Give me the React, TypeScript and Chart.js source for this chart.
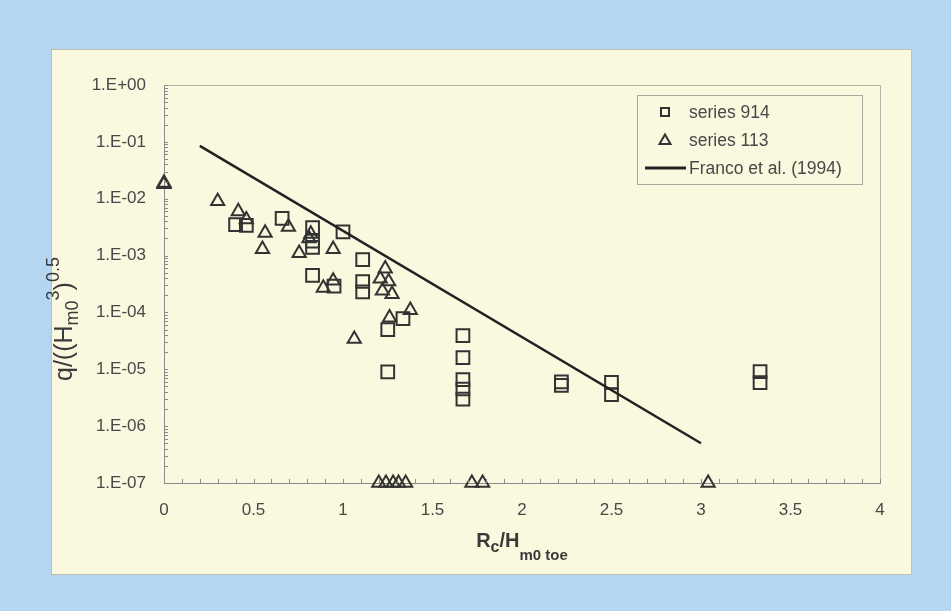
import React, { useEffect, useRef } from "react";
import { Chart, registerables } from "chart.js";

Chart.register(...registerables);

// ---------- data ----------
const series914X = [0.40, 0.46, 0.66, 0.83, 0.83, 0.83, 0.83, 0.95, 1.00, 1.11, 1.11, 1.11, 1.25, 1.25, 1.335, 1.67, 1.67, 1.67, 1.67, 1.67, 2.22, 2.22, 2.50, 2.50, 3.33, 3.33];
const series914Y = [0.0035, 0.0034, 0.0045, 0.0031, 0.0018, 0.0014, 0.00045, 0.00029, 0.0026, 0.00085, 0.00035, 0.00023, 5.0e-5, 9.0e-6, 7.8e-5, 3.9e-5, 1.6e-5, 6.6e-6, 4.5e-6, 3.0e-6, 6.0e-6, 5.2e-6, 5.9e-6, 3.6e-6, 9.1e-6, 5.8e-6];

const series113X = [0, 0, 0.30, 0.415, 0.46, 0.55, 0.565, 0.695, 0.755, 0.81, 0.82, 0.89, 0.945, 0.945, 1.063, 1.208, 1.22, 1.236, 1.255, 1.26, 1.274, 1.376, 1.20, 1.24, 1.28, 1.31, 1.35, 1.72, 1.78, 3.04];
const series113Y = [0.018, 0.019, 0.0090, 0.0060, 0.0043, 0.0013, 0.0025, 0.0032, 0.0011, 0.0020, 0.0024, 0.00027, 0.0013, 0.00036, 3.4e-5, 0.00039, 0.00024, 0.00059, 0.00035, 8.1e-5, 0.00021, 1.1e-4, 1e-7, 1e-7, 1e-7, 1e-7, 1e-7, 1e-7, 1e-7, 1e-7];

const francoX = [0.2, 3.0];
const francoY = [0.085, 5e-7];

const yTickValues = [1e-7, 1e-6, 1e-5, 1e-4, 1e-3, 1e-2, 1e-1, 1];
const yTickLabels = ["1.E-07", "1.E-06", "1.E-05", "1.E-04", "1.E-03", "1.E-02", "1.E-01", "1.E+00"];
const xTickValues = [0, 0.5, 1, 1.5, 2, 2.5, 3, 3.5, 4];
const xTickLabels = ["0", "0.5", "1", "1.5", "2", "2.5", "3", "3.5", "4"];

const legendLabels = ["series 914", "series 113", "Franco et al. (1994)"];

// ---------- style ----------
const BLUE = "rgb(180,214,240)";
const BEIGE = "rgb(250,248,222)";
const TEXT = "#484848";
const MARK = "#333333";
const FAMILY = "'Liberation Sans', Arial, sans-serif";

type Run = { t: string; size: number; dy: number; bold?: boolean };

function drawRuns(ctx: CanvasRenderingContext2D, runs: Run[], x0: number) {
  let x = x0;
  for (const r of runs) {
    ctx.font = `${r.bold ? "bold " : ""}${r.size}px ${FAMILY}`;
    ctx.fillText(r.t, x, r.dy);
    x += ctx.measureText(r.t).width;
  }
}

function runsWidth(ctx: CanvasRenderingContext2D, runs: Run[]) {
  let w = 0;
  for (const r of runs) {
    ctx.font = `${r.bold ? "bold " : ""}${r.size}px ${FAMILY}`;
    w += ctx.measureText(r.t).width;
  }
  return w;
}

const decorPlugin = {
  id: "decor",
  beforeDraw(chart: any) {
    const ctx: CanvasRenderingContext2D = chart.ctx;
    const { width, height } = chart;
    ctx.save();
    ctx.fillStyle = BLUE;
    ctx.fillRect(0, 0, width, height);
    ctx.fillStyle = BEIGE;
    ctx.fillRect(51, 49, 861, 526);
    ctx.strokeStyle = "rgba(140,150,150,0.55)";
    ctx.lineWidth = 1;
    ctx.strokeRect(51.5, 49.5, 860, 525);
    const a = chart.chartArea;
    ctx.strokeStyle = "#b5b5ab";
    ctx.strokeRect(Math.round(a.left) + 0.5, Math.round(a.top) + 0.5, a.right - a.left, a.bottom - a.top);
    ctx.restore();
  },
  afterDraw(chart: any) {
    const ctx: CanvasRenderingContext2D = chart.ctx;
    const a = chart.chartArea;
    const xs = chart.scales.x;
    const ys = chart.scales.y;
    ctx.save();
    // minor ticks (inward)
    ctx.strokeStyle = "#8a8a8a";
    ctx.lineWidth = 1;
    ctx.beginPath();
    const lo = Math.round(Math.log10(ys.min));
    const hi = Math.round(Math.log10(ys.max));
    for (let d = lo; d <= hi; d++) {
      for (let j = 1; j <= 9; j++) {
        const v = j * Math.pow(10, d);
        if (v > ys.max * 1.0001) break;
        const py = Math.round(ys.getPixelForValue(v)) + 0.5;
        ctx.moveTo(a.left, py);
        ctx.lineTo(a.left + 4, py);
      }
    }
    for (let i = 0; i <= Math.round((xs.max - xs.min) * 10); i++) {
      const v = xs.min + i / 10;
      const px = Math.round(xs.getPixelForValue(v)) + 0.5;
      ctx.moveTo(px, a.bottom);
      ctx.lineTo(px, a.bottom - 4);
    }
    ctx.stroke();

    // legend
    const lx = 637, ly = 95, lw = 225, lh = 89;
    ctx.strokeStyle = "#a8a8a0";
    ctx.lineWidth = 1;
    ctx.strokeRect(lx + 0.5, ly + 0.5, lw, lh);
    const rows = [112, 140, 168];
    ctx.strokeStyle = MARK;
    ctx.lineWidth = 2;
    ctx.strokeRect(665 - 4, rows[0] - 4, 8, 8);
    ctx.beginPath();
    ctx.moveTo(665, rows[1] - 5.5);
    ctx.lineTo(665 + 5.5, rows[1] + 4);
    ctx.lineTo(665 - 5.5, rows[1] + 4);
    ctx.closePath();
    ctx.stroke();
    ctx.strokeStyle = "#222";
    ctx.lineWidth = 3;
    ctx.beginPath();
    ctx.moveTo(645, rows[2]);
    ctx.lineTo(686, rows[2]);
    ctx.stroke();
    ctx.fillStyle = TEXT;
    ctx.font = `17.5px ${FAMILY}`;
    ctx.textBaseline = "middle";
    ctx.textAlign = "left";
    legendLabels.forEach((t, i) => ctx.fillText(t, 689, rows[i] + 1));

    // x title
    ctx.textBaseline = "alphabetic";
    ctx.fillStyle = "#3a3a3a";
    const xRuns: Run[] = [
      { t: "R", size: 20, dy: 0, bold: true },
      { t: "c", size: 16, dy: 5, bold: true },
      { t: "/H", size: 20, dy: 0, bold: true },
      { t: "m0 toe", size: 15, dy: 13, bold: true },
    ];
    const xw = runsWidth(ctx, xRuns);
    ctx.save();
    ctx.translate((a.left + a.right) / 2 - xw / 2, 547);
    drawRuns(ctx, xRuns, 0);
    ctx.restore();

    // y title (rotated)
    const yRuns: Run[] = [
      { t: "q/((H", size: 25, dy: 0 },
      { t: "m0", size: 18, dy: 6 },
      { t: "3", size: 18, dy: -13 },
      { t: ")", size: 25, dy: 0 },
      { t: "0.5", size: 18, dy: -13 },
    ];
    ctx.save();
    ctx.translate(72, 381);
    ctx.rotate(-Math.PI / 2);
    drawRuns(ctx, yRuns, 0);
    ctx.restore();

    ctx.restore();
  },
};

export default function App() {
  const ref = useRef<HTMLCanvasElement | null>(null);

  useEffect(() => {
    if (!ref.current) return;
    const chart = new Chart(ref.current, {
      type: "scatter",
      data: {
        datasets: [
          {
            type: "line",
            label: legendLabels[2],
            data: francoX.map((x, i) => ({ x, y: francoY[i] })),
            borderColor: "#222",
            borderWidth: 2.5,
            pointRadius: 0,
            fill: false,
            showLine: true,
            tension: 0,
            clip: false,
          } as any,
          {
            label: legendLabels[0],
            data: series914X.map((x, i) => ({ x, y: series914Y[i] })),
            pointStyle: "rect",
            pointRadius: 9,
            pointBorderWidth: 2,
            borderWidth: 2,
            borderColor: MARK,
            backgroundColor: "transparent",
            clip: false,
          } as any,
          {
            label: legendLabels[1],
            data: series113X.map((x, i) => ({ x, y: series113Y[i] })),
            pointStyle: "triangle",
            pointRadius: 7.6,
            pointBorderWidth: 2,
            borderWidth: 2,
            borderColor: MARK,
            backgroundColor: "transparent",
            clip: false,
          } as any,
        ],
      },
      options: {
        responsive: false,
        animation: false,
        devicePixelRatio: 1,
        layout: { padding: { left: 0, right: 71, top: 85, bottom: 0 } },
        plugins: { legend: { display: false }, tooltip: { enabled: false }, title: { display: false } },
        scales: {
          x: {
            type: "linear",
            position: "bottom",
            min: xTickValues[0],
            max: xTickValues[xTickValues.length - 1],
            afterBuildTicks: (s: any) => {
              s.ticks = xTickValues.map((v) => ({ value: v }));
            },
            ticks: {
              padding: 17,
              color: TEXT,
              font: { family: FAMILY, size: 17 },
              autoSkip: false,
              maxRotation: 0,
              callback: (v: any, i: number) => xTickLabels[i],
            },
            grid: { display: false, drawTicks: false },
            border: { display: true, color: "#8a8a8a", width: 1 },
            afterFit: (s: any) => {
              s.height = 128;
            },
          },
          y: {
            type: "logarithmic",
            position: "left",
            min: yTickValues[0],
            max: yTickValues[yTickValues.length - 1],
            afterBuildTicks: (s: any) => {
              s.ticks = yTickValues.map((v) => ({ value: v }));
            },
            ticks: {
              padding: 18,
              color: TEXT,
              font: { family: FAMILY, size: 17 },
              autoSkip: false,
              callback: (v: any, i: number) => yTickLabels[i],
            },
            grid: { display: false, drawTicks: false },
            border: { display: true, color: "#8a8a8a", width: 1 },
            afterFit: (s: any) => {
              s.width = 164;
            },
          },
        },
      } as any,
      plugins: [decorPlugin],
    });
    return () => chart.destroy();
  }, []);

  return (
    <div style={{ position: "fixed", left: 0, top: 0, width: 951, height: 611, background: BLUE }}>
      <canvas ref={ref} width={951} height={611} style={{ display: "block" }} />
    </div>
  );
}
